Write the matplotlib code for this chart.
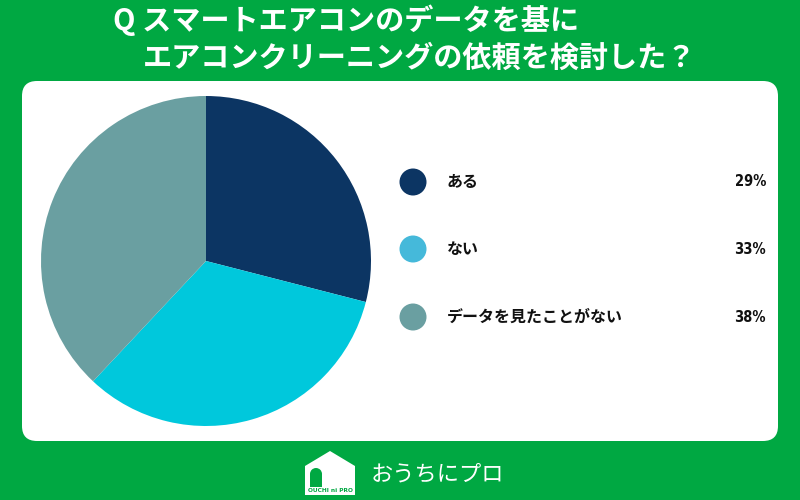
import matplotlib
matplotlib.use("Agg")
import matplotlib.pyplot as plt
from matplotlib.patches import FancyBboxPatch, Circle, Polygon, Rectangle, Wedge

plt.rcParams['font.family'] = ['Noto Sans CJK JP', 'DejaVu Sans']

title_lines = ["Q スマートエアコンのデータを基に", "エアコンクリーニングの依頼を検討した？"]
categories = ["ある", "ない", "データを見たことがない"]
values = [29, 33, 38]
pie_colors = ["#0C3563", "#00C8DC", "#6A9FA1"]
legend_colors = ["#0C3563", "#45B9DA", "#6A9FA1"]
green = "#00A842"

fig = plt.figure(figsize=(8, 5), dpi=100)
fig.patch.set_facecolor(green)

bg = fig.add_axes([0, 0, 1, 1])
bg.set_xlim(0, 800)
bg.set_ylim(500, 0)
bg.axis('off')

# white panel
panel = FancyBboxPatch((22 + 15, 81 + 15), 756 - 30, 360 - 30,
                       boxstyle="round,pad=15", facecolor="white", edgecolor="none")
bg.add_patch(panel)

# title
bg.text(113, 20, title_lines[0], color="white", fontsize=21, fontweight="bold",
        ha="left", va="center")
bg.text(143, 58, title_lines[1], color="white", fontsize=21, fontweight="bold",
        ha="left", va="center")

# legend
ys = [182, 249, 317]
for cat, val, col, y in zip(categories, values, legend_colors, ys):
    bg.add_patch(Circle((413, y), 13.5, facecolor=col, edgecolor="none"))
    bg.text(447, y, cat, fontsize=11.5, fontweight="bold", ha="left", va="center", color="#111111")
    bg.text(766, y, f"{val}%", fontsize=10.5, fontweight="bold", ha="right", va="center",
            color="#111111", family=["DejaVu Sans"], stretch="condensed")

# logo: house
house = Polygon([(305, 495), (305, 466), (330, 451), (355, 466), (355, 495)],
                closed=True, facecolor="white", edgecolor="none", joinstyle="round")
bg.add_patch(house)
bg.add_patch(Rectangle((310, 474), 12, 13, facecolor=green, edgecolor="none"))
bg.add_patch(Wedge((316, 474), 6, 180, 360, facecolor=green, edgecolor="none"))
bg.add_patch(Rectangle((305, 487), 50, 8, facecolor="white", edgecolor="none"))
bg.text(330, 491, "OUCHI ni PRO", fontsize=4.2, fontweight="bold", color=green,
        ha="center", va="center", family=["DejaVu Sans"])
bg.text(371, 474, "おうちにプロ", fontsize=16, color="white", ha="left", va="center",
        fontweight="normal")

# pie
cx, cy, r = 206, 261, 165
pax = fig.add_axes([(cx - r) / 800, (500 - cy - r) / 500, 2 * r / 800, 2 * r / 500])
pax.pie(values, colors=pie_colors, startangle=90, counterclock=False, radius=1,
        wedgeprops=dict(linewidth=0, edgecolor="none"))
pax.set_xlim(-1, 1)
pax.set_ylim(-1, 1)
pax.axis('off')

fig.savefig("out.png", dpi=100, facecolor=green)
